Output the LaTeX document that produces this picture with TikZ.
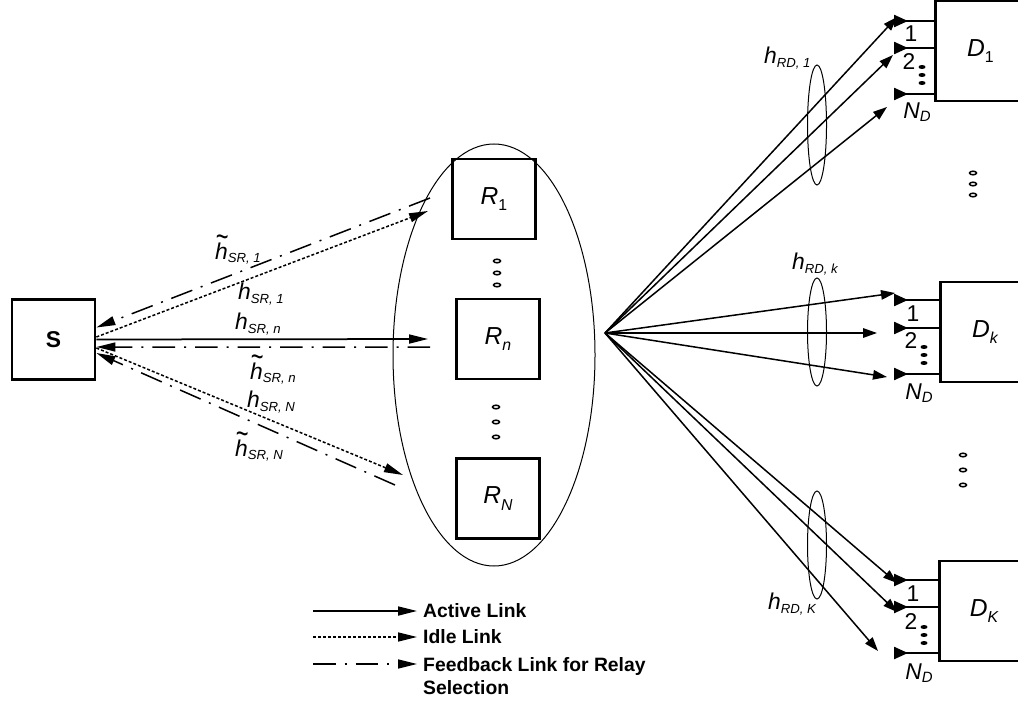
\documentclass[tikz,border=0pt]{standalone}
\usepackage{fontspec}
\setmainfont{Liberation Sans}
\usetikzlibrary{arrows.meta,positioning}

\newcommand{\chsub}[1]{\raisebox{-1.8pt}{\fontsize{7.5}{9}\selectfont\textit{#1}}}
\newcommand{\psub}[1]{\raisebox{-2pt}{\fontsize{8.5}{10}\selectfont\textit{#1}}}
\newcommand{\idx}[1]{\raisebox{-3.5pt}{\fontsize{9}{10}\selectfont #1}}
\newcommand{\tilh}{\makebox[0pt][l]{\hspace{0.02em}\raisebox{0.52em}{\scalebox{0.95}[1.4]{\textit{\char"7E}}}}\textit{h}}
\newcommand{\chan}[1]{\textit{h}\chsub{#1}}
\newcommand{\chanw}[1]{\tilh\chsub{#1}}

\begin{document}
\begin{tikzpicture}[
  x=0.2mm, y=-0.2mm,
  every node/.style={font=\fontsize{14}{16}\selectfont},
  blk/.style={draw, line width=0.55mm, minimum width=16.6mm, minimum height=16mm, inner sep=0pt},
  dest/.style={draw, line width=0.55mm, minimum width=18mm, minimum height=20mm, anchor=west, inner sep=0pt},
  tip/.style={-{Triangle[length=3.8mm,width=1.8mm]}},
  active/.style={tip, line width=0.35mm},
  idle/.style={tip, line width=0.3mm, dash pattern=on 0.6mm off 0.4mm},
  feedback/.style={tip, line width=0.3mm, dash pattern=on 4.5mm off 1.8mm on 0.4mm off 1.8mm},
  link/.style={-{Triangle[length=2.8mm,width=1.9mm]}, line width=0.3mm},
  port/.style={{Triangle[reversed,length=2.8mm,width=2.4mm]}-, line width=0.45mm},
  lbl/.style={font=\fontsize{13}{15}\selectfont, inner sep=1pt, anchor=west},
  plbl/.style={font=\fontsize{13}{15}\selectfont, inner sep=0pt},
  legtxt/.style={font=\fontsize{11}{13}\selectfont\bfseries, anchor=west, align=left},
  bundle/.style={line width=0.2mm},
  dot/.style={line width=0.3mm},
]
\useasboundingbox (0,0) rectangle (1018,704);
\clip (0,0) rectangle (1018,704);

% -- source and relays --
\node[blk, font=\fontsize{13}{15}\selectfont\bfseries] (S) at (53.5,339.5) {S};
\draw[bundle] (494,355) ellipse [x radius=101, y radius=211];
\node[blk] (R1) at (494,199) {\textit{R}\idx{1}};
\node[blk] (Rn) at (498,339) {\textit{R}\idx{\textit{n}}};
\node[blk] (RN) at (498,498.5) {\textit{R}\idx{\textit{N}}};
\foreach \y in {261,273,285} \draw[dot] (497,\y) ellipse [x radius=3.5, y radius=1.8];
\foreach \y in {407,422,437} \draw[dot] (496,\y) ellipse [x radius=3.5, y radius=1.8];

% -- S <-> R links --
\coordinate (r1fb) at (430,198);
\coordinate (r1in) at (428,211);
\coordinate (rnin) at (428,339);
\coordinate (rnfb) at (430,347);
\coordinate (rNin) at (403,475);
\coordinate (rNfb) at (395,485);
\draw[feedback] (r1fb) -- ([yshift=2.4mm]S.east);
\draw[idle] ([yshift=0.5mm]S.east) -- (r1in);
\draw[active] (S.east) -- (rnin);
\draw[feedback] (rnfb) -- ([yshift=-1.5mm]S.east);
\draw[idle] ([yshift=-1.7mm]S.east) -- (rNin);
\draw[feedback] (rNfb) -- ([yshift=-2.7mm]S.east);

\node[lbl] (l1) at (213,250) {\chanw{SR, 1}};
\node[lbl] (l2) at (236,294) {\chan{SR, 1}};
\node[lbl] (l3) at (233,324) {\chan{SR, n}};
\node[lbl] (l4) at (248,370) {\chanw{SR, n}};
\node[lbl] (l5) at (245,402) {\chan{SR, N}};
\node[lbl] (l6) at (233,447) {\chanw{SR, N}};

% -- destinations --
\coordinate (fan) at (605,333);
\node[dest] (D1) at (934,51) {\textit{D}\idx{1}};
\node[dest] (Dk) at (939,332) {\textit{D}\idx{\textit{k}}};
\node[dest] (DK) at (938,611) {\textit{D}\idx{\textit{K}}};

\foreach \d/\ya/\yb/\yc in {D1/21/48/94, Dk/300/328/374, DK/580/607/653} {
  \draw[port] (894,\ya) -- (894,\ya -| \d.west);
  \draw[port] (894,\yb) -- (894,\yb -| \d.west);
  \draw[port] (894,\yc) -- (894,\yc -| \d.west);
}
\node[plbl] (p11) at (911,34) {1};
\node[plbl] (p12) at (909,62) {2};
\node[plbl] (p1N) at (917,112) {\textit{N}\psub{D}};
\node[plbl] (pk1) at (913,314) {1};
\node[plbl] (pk2) at (911,341) {2};
\node[plbl] (pkN) at (919,393) {\textit{N}\psub{D}};
\node[plbl] (pK1) at (913,594) {1};
\node[plbl] (pK2) at (911,622) {2};
\node[plbl] (pKN) at (919,673) {\textit{N}\psub{D}};
\foreach \x/\y in {922/67,922/75,922/83, 924/347,924/355,924/363, 924/627,924/635,924/643}
  \fill (\x,\y) ellipse [x radius=3.5, y radius=2];
\foreach \y in {173,184,195} \draw[dot] (973,\y) ellipse [x radius=3.5, y radius=1.8];
\foreach \y in {455,470,485} \draw[dot] (963,\y) ellipse [x radius=3.5, y radius=1.8];

% -- R -> D links --
\coordinate (a11) at (897,17);
\coordinate (a12) at (893,55);
\coordinate (a13) at (887,107);
\coordinate (ak1) at (895,293);
\coordinate (ak2) at (877,333);
\coordinate (ak3) at (887,377);
\coordinate (aK1) at (897,583);
\coordinate (aK2) at (897,612);
\coordinate (aK3) at (878,651);
\foreach \t in {a11,a12,a13,ak1,ak2,ak3,aK1,aK2,aK3}
  \draw[link] (fan) -- (\t);

\draw[bundle] (817,125) ellipse [x radius=9.5, y radius=60];
\draw[bundle] (817,332) ellipse [x radius=9.5, y radius=54];
\draw[bundle] (817,545) ellipse [x radius=9.5, y radius=54];
\node[lbl] (g1) at (762,58) {\chan{RD, 1}};
\node[lbl] (gk) at (790,264) {\chan{RD, k}};
\node[lbl] (gK) at (766,604) {\chan{RD, K}};

% -- legend --
\coordinate (e1) at (313,611);
\coordinate (e2) at (313,637);
\coordinate (e3) at (313,664);
\node[legtxt] (t1) at (417,611) {Active Link};
\node[legtxt] (t2) at (417,637) {Idle Link};
\node[legtxt, anchor=north west] (t3) at (417,651) {Feedback Link for Relay\\Selection};
\draw[active] (e1) -- (t1.west);
\draw[idle] (e2) -- (t2.west);
\draw[feedback] (e3) -- (e3 -| t3.west);

\end{tikzpicture}
\end{document}
